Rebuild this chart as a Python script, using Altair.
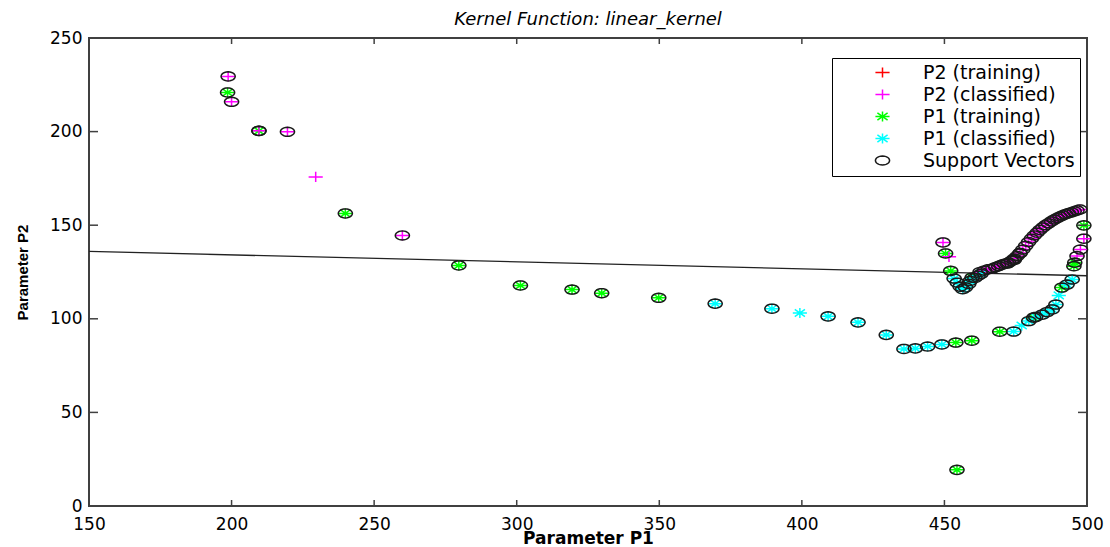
import math
import altair as alt
import pandas as pd

# ---------------- data ----------------
x_ticks = [150, 200, 250, 300, 350, 400, 450, 500]
y_ticks = [0, 50, 100, 150, 200, 250]

series_names = ["P2 (training)", "P2 (classified)", "P1 (training)",
                "P1 (classified)", "Support Vectors"]
series_colors = ["#ff0000", "#ff00ff", "#00ff00", "#00ffff", "#1a1a1a"]

# P2 training points (none visible: hidden beneath the classified markers)
p2_train_x = []
p2_train_y = []

# P1 training (green asterisks)
p1_train_x = [198.6, 209.6, 239.9, 279.7, 301.3, 319.4, 329.8, 349.8,
              450.4, 452.2, 454.0, 454.4, 459.6, 459.7, 469.4, 472.0,
              474.5, 476.5, 481.3, 491.2, 495.4, 495.7, 498.9]
p1_train_y = [220.9, 200.4, 156.3, 128.5, 117.8, 115.6, 113.7, 111.2,
              134.9, 125.6, 87.3, 19.3, 88.3, 122.0, 93.1, 129.5,
              131.5, 135.0, 100.6, 116.7, 128.1, 130.0, 149.9]

# P2 classified (magenta plus)
p2_cls_x = [198.8, 200.0, 209.6, 219.6, 229.5, 259.9, 449.5, 451.6,
            462.5, 464.0, 465.5, 467.0, 468.0, 469.0, 470.0, 471.0,
            472.5, 473.5, 474.5, 475.5, 476.5, 477.5, 478.5, 479.5,
            480.5, 481.5, 482.5, 483.5, 484.5, 485.5, 486.5, 487.5,
            488.5, 489.5, 490.5, 491.5, 492.5, 493.5, 494.5, 495.5,
            496.5, 497.5, 496.5, 497.7, 498.9]
p2_cls_y = [229.5, 215.9, 200.4, 199.9, 175.8, 144.5, 140.8, 133.1,
            125.0, 125.8, 126.5, 127.0, 127.6, 128.2, 128.8, 129.4,
            130.0, 131.0, 132.2, 133.5, 135.2, 137.0, 139.0, 141.0,
            142.8, 144.5, 146.0, 147.5, 148.8, 150.0, 151.0, 152.0,
            153.0, 153.8, 154.6, 155.3, 155.9, 156.4, 156.9, 157.4,
            157.9, 158.4, 133.5, 137.0, 142.8]

# P1 classified (cyan asterisks)
p1_cls_x = [369.6, 389.5, 399.3, 409.2, 419.7, 429.6, 435.8, 439.8,
            444.1, 449.1, 453.4, 454.5, 455.5, 456.4, 457.4, 458.5,
            459.0, 460.7, 461.8, 462.8, 474.3, 477.1, 479.6, 482.0,
            484.3, 486.0, 487.8, 489.1, 490.1, 493.0, 494.8]
p1_cls_y = [108.1, 105.4, 103.1, 101.3, 98.1, 91.4, 83.9, 84.2,
            85.2, 86.3, 121.5, 119.3, 117.2, 115.8, 116.8, 118.6,
            120.2, 121.8, 123.0, 124.0, 93.2, 96.4, 98.8, 101.0,
            102.2, 103.6, 105.0, 107.6, 112.5, 118.3, 121.0]

# points that are NOT circled as support vectors
plain_x = [229.5, 399.3, 451.6, 477.1, 490.1]
plain_y = [175.8, 103.1, 133.1, 96.4, 112.5]

# separating line of the linear kernel
boundary_x = [150, 500]
boundary_y = [136, 123]

# ---------------- build tables ----------------
rows = []
for xs, ys, name in [(p2_train_x, p2_train_y, series_names[0]),
                     (p1_train_x, p1_train_y, series_names[2]),
                     (p2_cls_x, p2_cls_y, series_names[1]),
                     (p1_cls_x, p1_cls_y, series_names[3])]:
    for a, b in zip(xs, ys):
        rows.append({"P1": a, "P2": b, "series": name})

plain = set(zip(plain_x, plain_y))
sv_rows = [{"P1": r["P1"], "P2": r["P2"], "series": series_names[4]}
           for r in rows if (r["P1"], r["P2"]) not in plain]
points = pd.DataFrame(rows + sv_rows)
points["order"] = range(len(points))

# ---------------- marker shapes ----------------
plus_path = "M-1,0H1M0,-0.72V0.72"
aster_path = "M-1,0H1M0,-0.72V0.72M-0.72,-0.52L0.72,0.52M-0.72,0.52L0.72,-0.52"
ell = []
for i in range(24):
    t = 2 * math.pi * i / 24
    ell.append(f"{math.cos(t):.3f},{0.64 * math.sin(t):.3f}")
ellipse_path = "M" + "L".join(ell) + "Z"
series_shapes = [plus_path, plus_path, aster_path, aster_path, ellipse_path]

W, H = 998, 468
FONT = "DejaVu Sans"
AX = "#404040"

xscale = alt.Scale(domain=[150, 500], nice=False, zero=False)
yscale = alt.Scale(domain=[0, 250], nice=False, zero=False)

x_axis = alt.Axis(values=x_ticks, title="Parameter P1", grid=False, ticks=False, tickSize=0,
                  domain=False, labelFont=FONT, labelFontSize=17, labelColor="black",
                  labelPadding=10, titleFont=FONT, titleFontSize=17, titleFontWeight="bold",
                  titleColor="black", titlePadding=-2, labelFlush=False)
y_axis = alt.Axis(values=y_ticks, title="Parameter P2", grid=False, ticks=False, tickSize=0,
                  domain=False, labelFont=FONT, labelFontSize=17, labelColor="black",
                  labelPadding=7, titleFont="Liberation Sans", titleFontSize=15,
                  titleFontWeight="bold", titleColor="black", titlePadding=19,
                  labelFlush=False)

leg = alt.Legend(title=None, orient="none", legendX=743, legendY=20,
                 direction="vertical", labelFont=FONT, labelFontSize=19,
                 labelColor="black", symbolSize=200, symbolStrokeWidth=1.5,
                 strokeColor="black", fillColor="white", padding=5,
                 rowPadding=2, labelOffset=31, symbolOffset=36)

pts = alt.Chart(points).mark_point(filled=False, size=200, strokeWidth=1.5, opacity=1).encode(
    x=alt.X("P1:Q", scale=xscale, axis=x_axis),
    y=alt.Y("P2:Q", scale=yscale, axis=y_axis),
    color=alt.Color("series:N", scale=alt.Scale(domain=series_names, range=series_colors),
                    legend=leg),
    shape=alt.Shape("series:N", scale=alt.Scale(domain=series_names, range=series_shapes),
                    legend=leg),
    order=alt.Order("order:Q"),
)

bdf = pd.DataFrame({"P1": boundary_x, "P2": boundary_y})
line = alt.Chart(bdf).mark_line(color="#222222", strokeWidth=1.3, clip=True).encode(
    x=alt.X("P1:Q", scale=xscale, axis=x_axis),
    y=alt.Y("P2:Q", scale=yscale, axis=y_axis),
)

xt = pd.DataFrame({"P1": x_ticks})
yt = pd.DataFrame({"P2": y_ticks})
tick_style = dict(color=AX, strokeWidth=1.5)
bottom_ticks = alt.Chart(xt).mark_rule(**tick_style).encode(
    x=alt.X("P1:Q", scale=xscale, axis=x_axis), y=alt.value(H), y2=alt.value(H - 6))
top_ticks = alt.Chart(xt).mark_rule(**tick_style).encode(
    x=alt.X("P1:Q", scale=xscale, axis=x_axis), y=alt.value(0), y2=alt.value(6))
left_ticks = alt.Chart(yt).mark_rule(**tick_style).encode(
    y=alt.Y("P2:Q", scale=yscale, axis=y_axis), x=alt.value(0), x2=alt.value(9))
right_ticks = alt.Chart(yt).mark_rule(**tick_style).encode(
    y=alt.Y("P2:Q", scale=yscale, axis=y_axis), x=alt.value(W), x2=alt.value(W - 9))

chart = alt.layer(line, pts, bottom_ticks, top_ticks, left_ticks, right_ticks).properties(
    width=W, height=H,
    title=alt.TitleParams("Kernel Function: linear_kernel", font=FONT, fontStyle="italic",
                          fontWeight="normal", fontSize=18, color="black", anchor="middle",
                          offset=0),
    autosize=alt.AutoSizeParams(type="none"),
    padding={"left": 89, "top": 38, "right": 23, "bottom": 41},
    background="white",
).configure_view(stroke=AX, strokeWidth=2)

chart.save("out.html", embed_options={"renderer": "svg", "actions": False})
